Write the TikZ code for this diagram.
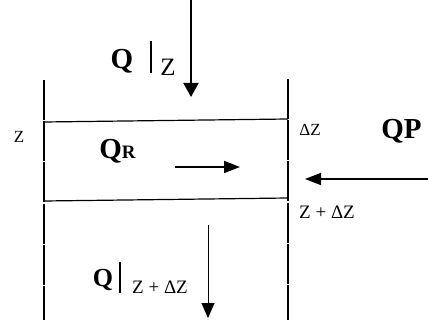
\documentclass[tikz,border=0pt]{standalone}
\usepackage{fontspec}
\setmainfont{Liberation Serif}
\usetikzlibrary{arrows.meta}
\begin{document}
\begin{tikzpicture}[x=0.5pt,y=-0.5pt,
  wall/.style={line width=0.6pt,dash pattern=on 20pt off 0.6pt},
  edge/.style={line width=0.6pt},
  bigq/.style={inner sep=0pt,font=\fontsize{14.5}{14.5}\selectfont\bfseries},
  small/.style={inner sep=0pt,font=\fontsize{9.5}{9.5}\selectfont},
  sub/.style={inner sep=0pt,font=\fontsize{12.5}{12.5}\selectfont},
  bar/.style={line width=0.6pt},
  heavyarrow/.style={line width=1pt,-{Triangle[length=7pt,width=7.5pt]}},
  midarrow/.style={line width=0.9pt,-{Triangle[length=8pt,width=6pt]}},
  thinarrow/.style={line width=0.5pt,-{Triangle[length=7.5pt,width=6.5pt]}}]
\useasboundingbox (0,0) rectangle (428,320);
% control volume lines
\coordinate (lt) at (44,80);
\coordinate (lb) at (44,320);
\coordinate (rt) at (288,79);
\coordinate (rb) at (288,320);
\coordinate (t1) at (44,122);
\coordinate (t2) at (288,119);
\coordinate (b1) at (44,201);
\coordinate (b2) at (288,198);
\draw[wall] (lt) -- (lb);
\draw[wall] (rt) -- (rb);
\draw[edge] (t1) -- (t2);
\draw[edge] (b1) -- (b2);
% top flux
\coordinate (qin0) at (191,0);
\coordinate (qin1) at (191,97);
\draw[heavyarrow] (qin0) -- (qin1);
\node[bigq] (qz) at (122,61) {Q};
\coordinate (bar1a) at (151,41);
\coordinate (bar1b) at (151,73);
\draw[bar] (bar1a) -- (bar1b);
\node[sub] (zsub) at (168,67) {Z};
% left label
\node[small,font=\fontsize{8.5}{8.5}\selectfont] (zl) at (19,137) {Z};
% QR
\node[bigq,anchor=base west] (qr) at (99,159) {Q{\fontsize{9.5}{9.5}\selectfont R}};
\coordinate (qr0) at (175,167);
\coordinate (qr1) at (240,167);
\draw[midarrow] (qr0) -- (qr1);
% right labels
\node[small,font=\fontsize{8.5}{8.5}\selectfont] (dz) at (310,130) {ΔZ};
\node[bigq,anchor=west] (qp) at (381,131) {QP};
\coordinate (qp0) at (428,179);
\coordinate (qp1) at (305,179);
\draw[midarrow,line width=0.75pt] (qp0) -- (qp1);
\node[small] (zdz) at (327,212) {Z + ΔZ};
% bottom flux
\coordinate (qo0) at (208,225);
\coordinate (qo1) at (208,318);
\draw[thinarrow] (qo0) -- (qo1);
\node[bigq,font=\fontsize{13}{13}\selectfont\bfseries] (qb) at (103,280) {Q};
\coordinate (bar2a) at (120,262);
\coordinate (bar2b) at (120,293);
\draw[bar] (bar2a) -- (bar2b);
\node[small] (zb) at (160,287) {Z + ΔZ};
\end{tikzpicture}
\end{document}
